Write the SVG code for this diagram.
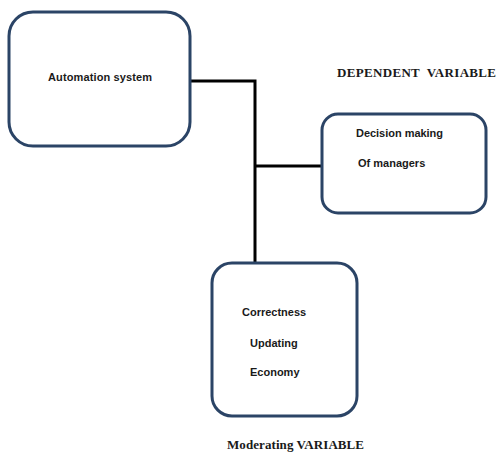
<svg xmlns="http://www.w3.org/2000/svg" width="497" height="452" viewBox="0 0 497 452">
  <style>
    .box { fill: #ffffff; stroke: #2b4466; stroke-width: 3; }
    .lbl { font-family: "Liberation Sans", Arial, sans-serif; font-size: 11px; font-weight: bold; fill: #1a1a1a; }
    .cap { font-family: "Liberation Serif", "Times New Roman", serif; font-size: 13px; font-weight: bold; fill: #1a1a1a; }
    .wire { fill: none; stroke: #000000; stroke-width: 3; }
  </style>
  <rect width="497" height="452" fill="#ffffff"/>

  <g id="connectors">
    <polyline class="wire" points="190,81 255,81 255,263"/>
    <line class="wire" x1="255" y1="166" x2="322" y2="166"/>
  </g>

  <g id="automation-system">
    <rect class="box" x="9" y="12" width="181" height="134" rx="24"/>
    <text class="lbl" x="48" y="81" textLength="104">Automation system</text>
  </g>

  <g id="decision-making">
    <rect class="box" x="322" y="114" width="164" height="99" rx="16"/>
    <text class="lbl" x="356" y="137" textLength="87">Decision making</text>
    <text class="lbl" x="358" y="167">Of managers</text>
  </g>

  <g id="moderating">
    <rect class="box" x="212" y="263" width="145" height="153" rx="20"/>
    <text class="lbl" x="242" y="316">Correctness</text>
    <text class="lbl" x="250" y="347">Updating</text>
    <text class="lbl" x="250" y="376">Economy</text>
  </g>

  <g id="captions">
    <text class="cap" x="337" y="77" xml:space="preserve" textLength="159">DEPENDENT  VARIABLE</text>
    <text class="cap" x="227" y="449" textLength="137">Moderating VARIABLE</text>
  </g>
</svg>
